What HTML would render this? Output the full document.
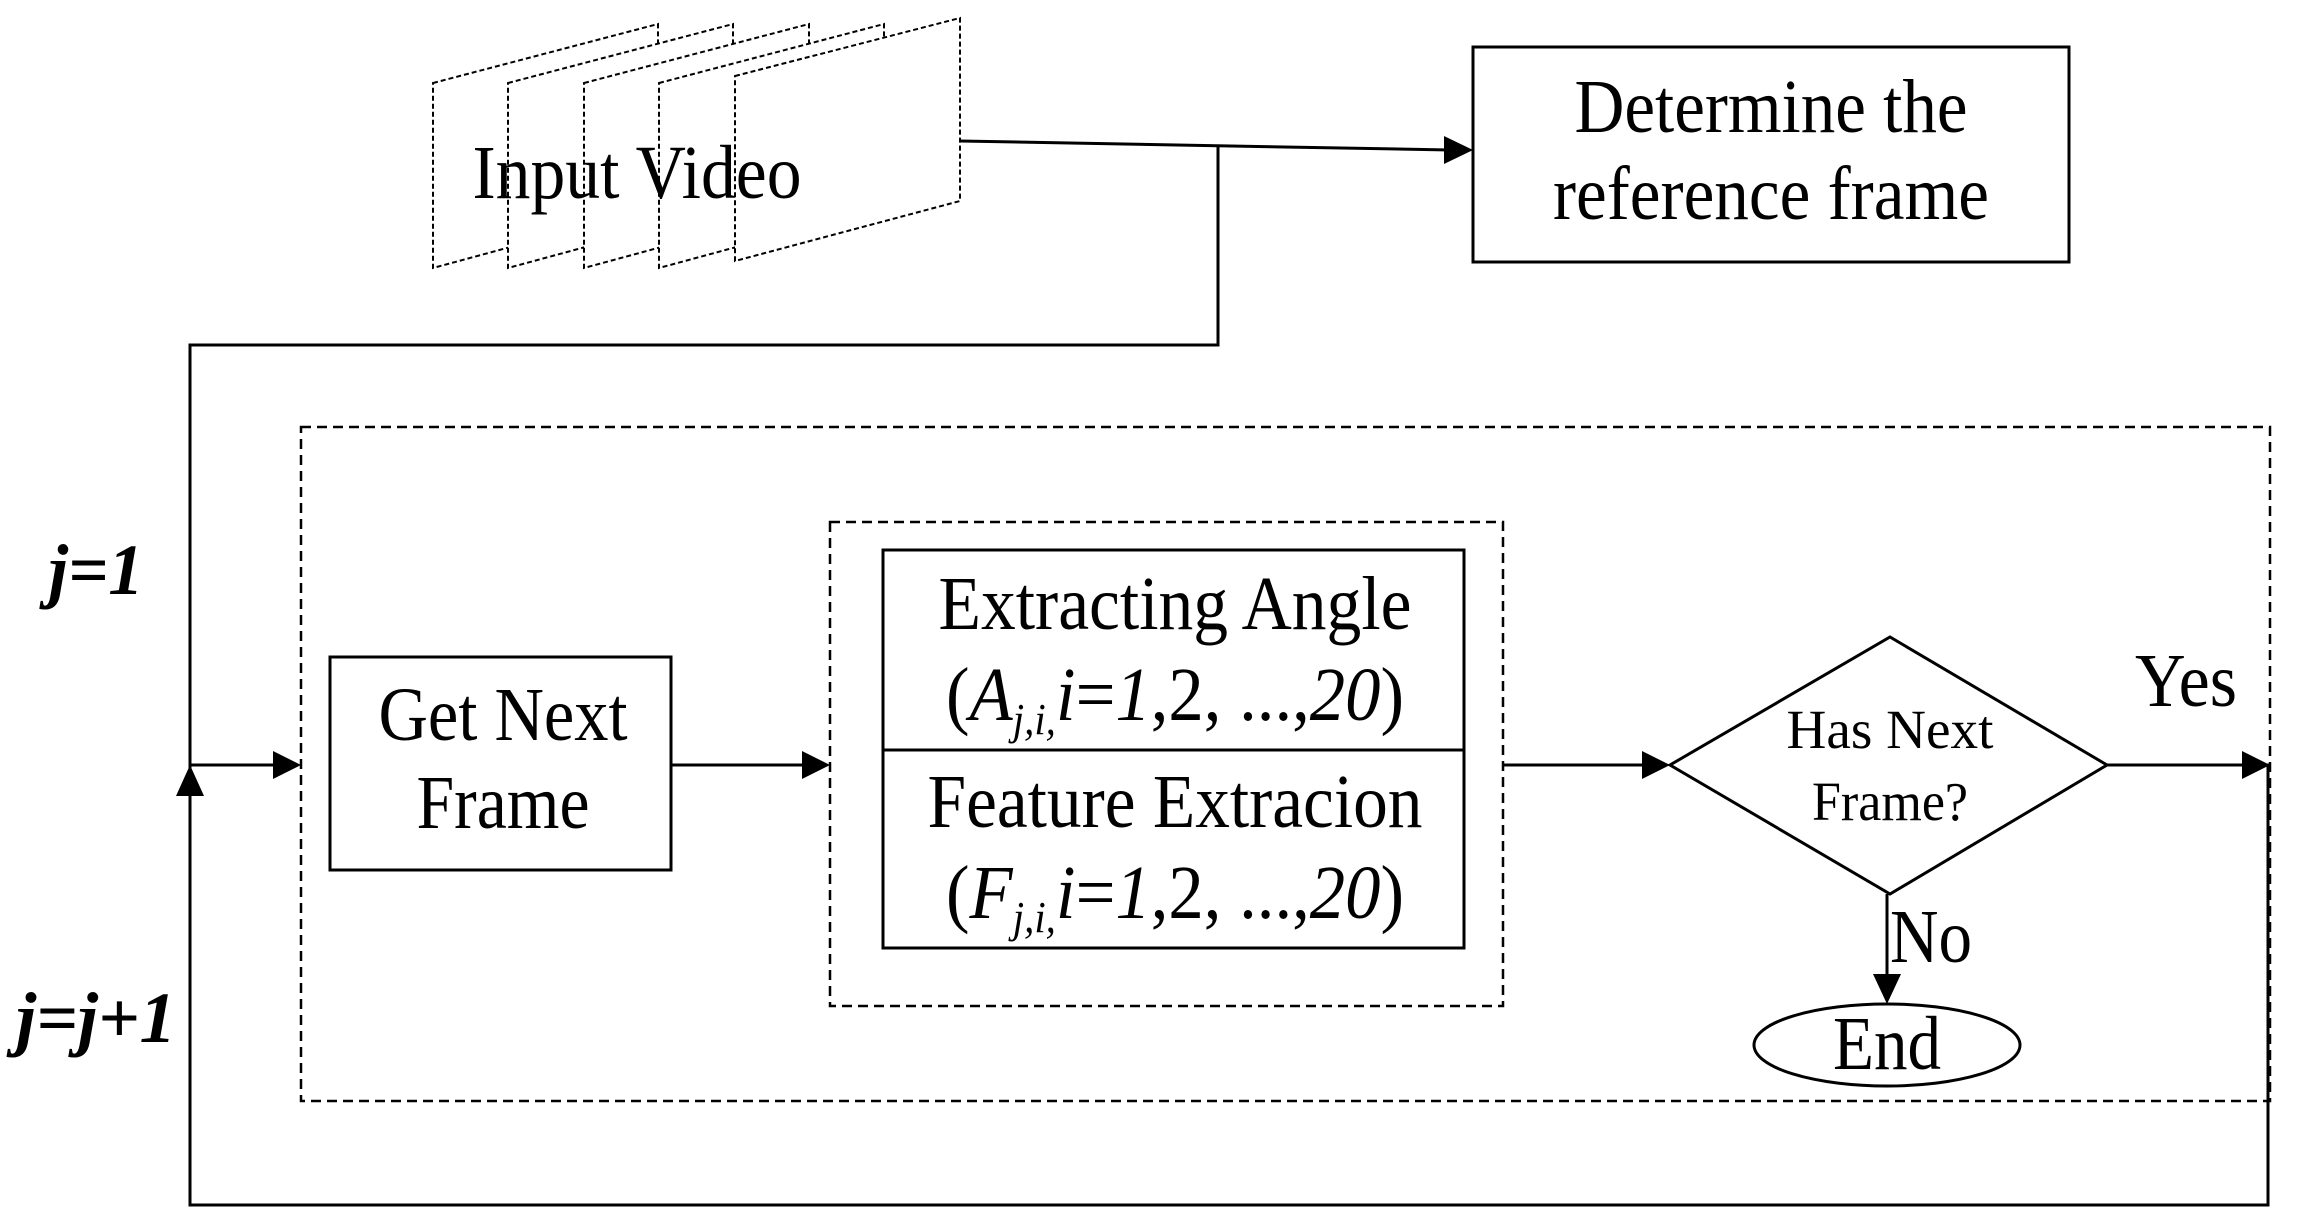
<!DOCTYPE html>
<html><head><meta charset="utf-8"><style>
html,body{margin:0;padding:0;background:#fff;}
svg{display:block;}
text{font-family:"Liberation Serif",serif;fill:#000;}
</style></head><body>
<svg width="2317" height="1219" viewBox="0 0 2317 1219" xmlns="http://www.w3.org/2000/svg">
<g fill="#fff" stroke="#000" stroke-width="2" stroke-dasharray="5,3">
<polygon points="433,83 658,24 658,207 433,268"/>
<polygon points="508,83 733,24 733,207 508,268"/>
<polygon points="584,83 809,24 809,207 584,268"/>
<polygon points="659,83 884,24 884,207 659,268"/>
<polygon points="735,76 960,18 960,201 735,261"/>
</g>
<text x="637" y="198" font-size="76" text-anchor="middle" textLength="329" lengthAdjust="spacingAndGlyphs">Input Video</text>

<rect x="1473" y="47" width="596" height="215" fill="none" stroke="#000" stroke-width="3"/>
<text x="1771" y="132" font-size="76" text-anchor="middle" textLength="393" lengthAdjust="spacingAndGlyphs">Determine the</text>
<text x="1771" y="219" font-size="76" text-anchor="middle" textLength="436" lengthAdjust="spacingAndGlyphs">reference frame</text>

<g stroke="#000" stroke-width="3" fill="none">
<polyline points="960,141 1450,150"/>
<polyline points="1218,145 1218,345 190,345 190,1205 2268,1205 2268,765 2250,765"/>
<line x1="190" y1="765" x2="278" y2="765"/>
<line x1="671" y1="765" x2="808" y2="765"/>
<line x1="1503" y1="765" x2="1648" y2="765"/>
<line x1="2107" y1="765" x2="2248" y2="765"/>
<line x1="1887" y1="894" x2="1887" y2="985"/>
</g>
<g fill="#000">
<polygon points="1473,150 1444,136 1444,164"/>
<polygon points="301,765 273,751 273,779"/>
<polygon points="830,765 802,751 802,779"/>
<polygon points="1670,765 1642,751 1642,779"/>
<polygon points="2270,765 2242,751 2242,779"/>
<polygon points="190,765 176,796 204,796"/>
<polygon points="1887,1004 1873,974 1901,974"/>
</g>

<g fill="none" stroke="#000" stroke-width="2.5" stroke-dasharray="10,6">
<rect x="301" y="427" width="1969" height="674"/>
<rect x="830" y="522" width="673" height="484"/>
</g>

<rect x="330" y="657" width="341" height="213" fill="none" stroke="#000" stroke-width="3"/>
<text x="503" y="740" font-size="76" text-anchor="middle" textLength="249" lengthAdjust="spacingAndGlyphs">Get Next</text>
<text x="503" y="828" font-size="76" text-anchor="middle" textLength="173" lengthAdjust="spacingAndGlyphs">Frame</text>

<rect x="883" y="550" width="581" height="398" fill="none" stroke="#000" stroke-width="3"/>
<line x1="883" y1="750" x2="1464" y2="750" stroke="#000" stroke-width="3"/>
<text x="1175" y="629" font-size="76" text-anchor="middle" textLength="473" lengthAdjust="spacingAndGlyphs">Extracting Angle</text>
<text x="1175" y="720" font-size="76" text-anchor="middle" textLength="458" lengthAdjust="spacingAndGlyphs">(<tspan font-style="italic">A</tspan><tspan font-style="italic" font-size="44" dy="14">j,i,</tspan><tspan font-style="italic" dy="-14">i</tspan>=<tspan font-style="italic">1</tspan>,2, ...,<tspan font-style="italic">20</tspan>)</text>
<text x="1175" y="827" font-size="76" text-anchor="middle" textLength="495" lengthAdjust="spacingAndGlyphs">Feature Extracion</text>
<text x="1175" y="918" font-size="76" text-anchor="middle" textLength="458" lengthAdjust="spacingAndGlyphs">(<tspan font-style="italic">F</tspan><tspan font-style="italic" font-size="44" dy="14">j,i,</tspan><tspan font-style="italic" dy="-14">i</tspan>=<tspan font-style="italic">1</tspan>,2, ...,<tspan font-style="italic">20</tspan>)</text>

<polygon points="1670,765 1890,637 2107,765 1890,894" fill="none" stroke="#000" stroke-width="3"/>
<text x="1890" y="748" font-size="55" text-anchor="middle" textLength="207" lengthAdjust="spacingAndGlyphs">Has Next</text>
<text x="1890" y="820" font-size="55" text-anchor="middle" textLength="156" lengthAdjust="spacingAndGlyphs">Frame?</text>

<text x="2186" y="706" font-size="76" text-anchor="middle" textLength="102" lengthAdjust="spacingAndGlyphs">Yes</text>
<text x="1931" y="962" font-size="76" text-anchor="middle" textLength="82" lengthAdjust="spacingAndGlyphs">No</text>

<ellipse cx="1887" cy="1045" rx="133" ry="41" fill="none" stroke="#000" stroke-width="3"/>
<text x="1887" y="1069" font-size="76" text-anchor="middle" textLength="108" lengthAdjust="spacingAndGlyphs">End</text>

<text x="96" y="594" font-size="72" font-weight="bold" font-style="italic" text-anchor="middle" textLength="95" lengthAdjust="spacingAndGlyphs">j=1</text>
<text x="96" y="1042" font-size="72" font-weight="bold" font-style="italic" text-anchor="middle" textLength="160" lengthAdjust="spacingAndGlyphs">j=j+1</text>
</svg>
</body></html>
